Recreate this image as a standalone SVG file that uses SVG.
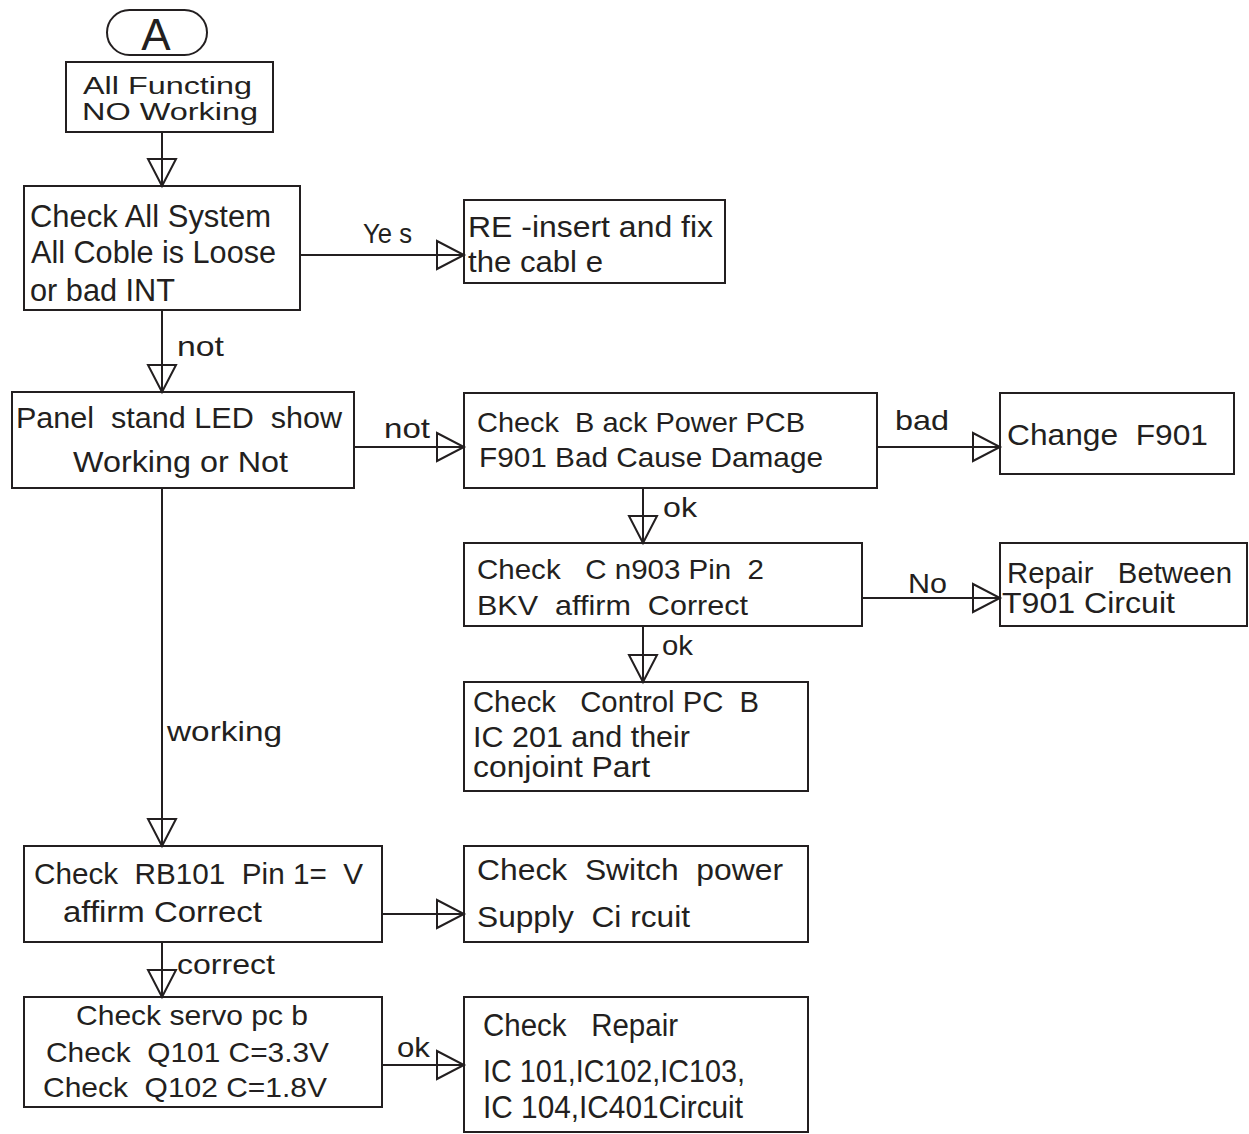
<svg xmlns="http://www.w3.org/2000/svg" width="1249" height="1134" viewBox="0 0 1249 1134">
<style>
  .box{fill:none;stroke:#231f20;stroke-width:2}
  .ln{fill:none;stroke:#231f20;stroke-width:2}
  text{font-family:"Liberation Sans",Arial,sans-serif;fill:#231f20;white-space:pre}
  .f23{font-size:23px}.f28{font-size:28px}.f29{font-size:29px}.f30{font-size:30px}.f31{font-size:31px}
</style>
<defs>
  <marker id="ah" viewBox="0 0 30 30" refX="28" refY="15" markerWidth="30" markerHeight="30" markerUnits="userSpaceOnUse" orient="auto" overflow="visible">
    <path d="M1,1 L28,15 L1,29 Z" fill="none" stroke="#231f20" stroke-width="2" stroke-linejoin="miter"/>
  </marker>
</defs>
<rect width="1249" height="1134" fill="#ffffff"/>

<g id="connectors">
  <path class="ln" d="M162,132 V186" marker-end="url(#ah)"/>
  <path class="ln" d="M300,255 H464" marker-end="url(#ah)"/>
  <path class="ln" d="M162,310 V392" marker-end="url(#ah)"/>
  <path class="ln" d="M354,447 H464" marker-end="url(#ah)"/>
  <path class="ln" d="M877,447 H1000" marker-end="url(#ah)"/>
  <path class="ln" d="M643,488 V543" marker-end="url(#ah)"/>
  <path class="ln" d="M862,598 H1000" marker-end="url(#ah)"/>
  <path class="ln" d="M643,626 V682" marker-end="url(#ah)"/>
  <path class="ln" d="M162,488 V846" marker-end="url(#ah)"/>
  <path class="ln" d="M382,914 H464" marker-end="url(#ah)"/>
  <path class="ln" d="M162,942 V997" marker-end="url(#ah)"/>
  <path class="ln" d="M382,1065 H464" marker-end="url(#ah)"/>
  <text class="f28" x="363" y="243" textLength="49" lengthAdjust="spacingAndGlyphs">Ye s</text>
  <text class="f28" x="177" y="356" textLength="47" lengthAdjust="spacingAndGlyphs">not</text>
  <text class="f28" x="384" y="438" textLength="46" lengthAdjust="spacingAndGlyphs">not</text>
  <text class="f28" x="895" y="430" textLength="54" lengthAdjust="spacingAndGlyphs">bad</text>
  <text class="f28" x="663" y="517" textLength="34" lengthAdjust="spacingAndGlyphs">ok</text>
  <text class="f28" x="908" y="593" textLength="39" lengthAdjust="spacingAndGlyphs">No</text>
  <text class="f28" x="662" y="655" textLength="31" lengthAdjust="spacingAndGlyphs">ok</text>
  <text class="f28" x="167" y="741" textLength="115" lengthAdjust="spacingAndGlyphs">working</text>
  <text class="f28" x="177" y="974" textLength="98" lengthAdjust="spacingAndGlyphs">correct</text>
  <text class="f28" x="397" y="1057" textLength="33" lengthAdjust="spacingAndGlyphs">ok</text>
</g>

<g id="start">
  <rect class="box" x="107" y="10" width="100" height="45" rx="22.5" ry="22.5"/>
  <text x="156" y="50" font-size="44" text-anchor="middle">A</text>
</g>

<g id="n1">
  <rect class="box" x="66" y="62" width="207" height="70"/>
  <text class="f23" x="83" y="94" textLength="169" lengthAdjust="spacingAndGlyphs">All Functing</text>
  <text class="f23" x="82" y="120" textLength="176" lengthAdjust="spacingAndGlyphs">NO Working</text>
</g>

<g id="n2">
  <rect class="box" x="24" y="186" width="276" height="124"/>
  <text class="f31" x="30" y="227" textLength="241" lengthAdjust="spacingAndGlyphs">Check All System</text>
  <text class="f31" x="31" y="263" textLength="245" lengthAdjust="spacingAndGlyphs">All Coble is Loose</text>
  <text class="f31" x="30" y="301" textLength="145" lengthAdjust="spacingAndGlyphs">or bad INT</text>
</g>

<g id="n_reinsert">
  <rect class="box" x="464" y="200" width="261" height="83"/>
  <text class="f30" x="468" y="237" textLength="245" lengthAdjust="spacingAndGlyphs">RE -insert and fix</text>
  <text class="f30" x="468" y="272" textLength="135" lengthAdjust="spacingAndGlyphs">the cabl e</text>
</g>

<g id="n3">
  <rect class="box" x="12" y="392" width="342" height="96"/>
  <text class="f29" x="16" y="428" textLength="326" lengthAdjust="spacingAndGlyphs">Panel  stand LED  show</text>
  <text class="f29" x="73" y="472" textLength="215" lengthAdjust="spacingAndGlyphs">Working or Not</text>
</g>

<g id="n4">
  <rect class="box" x="464" y="393" width="413" height="95"/>
  <text class="f28" x="477" y="432" textLength="328" lengthAdjust="spacingAndGlyphs">Check  B ack Power PCB</text>
  <text class="f28" x="479" y="467" textLength="344" lengthAdjust="spacingAndGlyphs">F901 Bad Cause Damage</text>
</g>

<g id="n_change">
  <rect class="box" x="1000" y="393" width="234" height="81"/>
  <text class="f30" x="1007" y="445" textLength="201" lengthAdjust="spacingAndGlyphs">Change  F901</text>
</g>

<g id="n5">
  <rect class="box" x="464" y="543" width="398" height="83"/>
  <text class="f28" x="477" y="579" textLength="287" lengthAdjust="spacingAndGlyphs">Check   C n903 Pin  2</text>
  <text class="f28" x="477" y="615" textLength="271" lengthAdjust="spacingAndGlyphs">BKV  affirm  Correct</text>
</g>

<g id="n_repair">
  <rect class="box" x="1000" y="543" width="247" height="83"/>
  <text class="f30" x="1007" y="583" textLength="225" lengthAdjust="spacingAndGlyphs">Repair   Between</text>
  <text class="f30" x="1002" y="613" textLength="173" lengthAdjust="spacingAndGlyphs">T901 Circuit</text>
</g>

<g id="n6">
  <rect class="box" x="464" y="682" width="344" height="109"/>
  <text class="f30" x="473" y="712" textLength="286" lengthAdjust="spacingAndGlyphs">Check   Control PC  B</text>
  <text class="f30" x="473" y="747" textLength="217" lengthAdjust="spacingAndGlyphs">IC 201 and their</text>
  <text class="f30" x="473" y="777" textLength="177" lengthAdjust="spacingAndGlyphs">conjoint Part</text>
</g>

<g id="n7">
  <rect class="box" x="24" y="846" width="358" height="96"/>
  <text class="f30" x="34" y="884" textLength="329" lengthAdjust="spacingAndGlyphs">Check  RB101  Pin 1=  V</text>
  <text class="f30" x="63" y="922" textLength="199" lengthAdjust="spacingAndGlyphs">affirm Correct</text>
</g>

<g id="n8">
  <rect class="box" x="464" y="846" width="344" height="96"/>
  <text class="f30" x="477" y="880" textLength="306" lengthAdjust="spacingAndGlyphs">Check  Switch  power</text>
  <text class="f30" x="477" y="927" textLength="213" lengthAdjust="spacingAndGlyphs">Supply  Ci rcuit</text>
</g>

<g id="n9">
  <rect class="box" x="24" y="997" width="358" height="110"/>
  <text class="f28" x="76" y="1025" textLength="232" lengthAdjust="spacingAndGlyphs">Check servo pc b</text>
  <text class="f28" x="46" y="1062" textLength="283" lengthAdjust="spacingAndGlyphs">Check  Q101 C=3.3V</text>
  <text class="f28" x="43" y="1097" textLength="284" lengthAdjust="spacingAndGlyphs">Check  Q102 C=1.8V</text>
</g>

<g id="n10">
  <rect class="box" x="464" y="997" width="344" height="135"/>
  <text class="f31" x="483" y="1036" textLength="195" lengthAdjust="spacingAndGlyphs">Check   Repair</text>
  <text class="f31" x="483" y="1082" textLength="262" lengthAdjust="spacingAndGlyphs">IC 101,IC102,IC103,</text>
  <text class="f31" x="483" y="1118" textLength="260" lengthAdjust="spacingAndGlyphs">IC 104,IC401Circuit</text>
</g>
</svg>
